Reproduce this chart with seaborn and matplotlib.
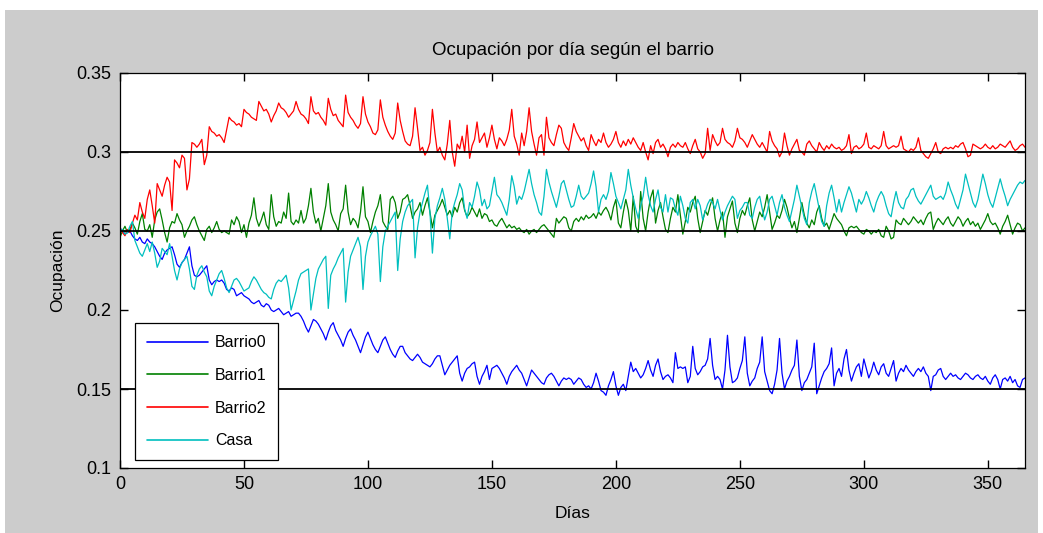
import numpy as np
import pandas as pd
import matplotlib
matplotlib.use('Agg')
import matplotlib.pyplot as plt
from matplotlib.patches import Rectangle
import seaborn as sns

# ---- datos: ocupación diaria (días 0..365) ----
dias = list(range(0, 366))

barrio0 = [
    0.252, 0.250, 0.248, 0.249, 0.250, 0.247, 0.245, 0.244, 0.246, 0.243,
    0.242, 0.245, 0.243, 0.242, 0.240, 0.237, 0.234, 0.232, 0.236, 0.238,
    0.239, 0.240, 0.235, 0.229, 0.227, 0.230, 0.232, 0.236, 0.240, 0.228,
    0.222, 0.221, 0.222, 0.224, 0.226, 0.228, 0.219, 0.216, 0.218, 0.219,
    0.218, 0.219, 0.217, 0.213, 0.212, 0.214, 0.213, 0.209, 0.210, 0.211,
    0.209, 0.208, 0.207, 0.205, 0.204, 0.205, 0.206, 0.203, 0.202, 0.204,
    0.203, 0.200, 0.199, 0.200, 0.201, 0.199, 0.197, 0.198, 0.199, 0.196,
    0.197, 0.198, 0.198, 0.196, 0.193, 0.189, 0.186, 0.190, 0.194, 0.193,
    0.191, 0.188, 0.185, 0.181, 0.186, 0.190, 0.192, 0.187, 0.184, 0.181,
    0.177, 0.182, 0.186, 0.188, 0.184, 0.181, 0.177, 0.173, 0.178, 0.183,
    0.186, 0.182, 0.178, 0.175, 0.173, 0.177, 0.181, 0.183, 0.179, 0.175,
    0.172, 0.170, 0.174, 0.177, 0.177, 0.173, 0.171, 0.169, 0.168, 0.170,
    0.172, 0.170, 0.167, 0.166, 0.165, 0.164, 0.166, 0.169, 0.171, 0.171,
    0.165, 0.159, 0.162, 0.165, 0.167, 0.169, 0.171, 0.160, 0.155, 0.160,
    0.163, 0.164, 0.166, 0.167, 0.158, 0.153, 0.158, 0.161, 0.165, 0.156,
    0.163, 0.164, 0.165, 0.163, 0.160, 0.157, 0.153, 0.158, 0.161, 0.163,
    0.165, 0.162, 0.160, 0.156, 0.152, 0.157, 0.162, 0.160, 0.158, 0.156,
    0.154, 0.153, 0.157, 0.159, 0.160, 0.158, 0.155, 0.152, 0.155, 0.157,
    0.156, 0.157, 0.156, 0.153, 0.155, 0.157, 0.156, 0.153, 0.151, 0.152,
    0.150, 0.154, 0.160, 0.155, 0.149, 0.148, 0.146, 0.152, 0.156, 0.161,
    0.152, 0.146, 0.151, 0.153, 0.149, 0.158, 0.167, 0.161, 0.163, 0.160,
    0.157, 0.159, 0.163, 0.168, 0.162, 0.158, 0.165, 0.169, 0.161, 0.156,
    0.158, 0.159, 0.157, 0.154, 0.173, 0.163, 0.164, 0.163, 0.164, 0.154,
    0.158, 0.177, 0.163, 0.159, 0.161, 0.164, 0.165, 0.169, 0.182, 0.165,
    0.156, 0.158, 0.156, 0.150, 0.162, 0.184, 0.164, 0.154, 0.155, 0.157,
    0.163, 0.168, 0.183, 0.160, 0.152, 0.155, 0.157, 0.163, 0.167, 0.183,
    0.161, 0.155, 0.149, 0.147, 0.153, 0.162, 0.182, 0.160, 0.150, 0.155,
    0.158, 0.162, 0.165, 0.181, 0.158, 0.149, 0.154, 0.156, 0.160, 0.164,
    0.179, 0.147, 0.152, 0.157, 0.161, 0.163, 0.166, 0.176, 0.152, 0.160,
    0.163, 0.158, 0.169, 0.175, 0.162, 0.155, 0.160, 0.164, 0.166, 0.158,
    0.169, 0.163, 0.157, 0.161, 0.167, 0.162, 0.159, 0.164, 0.166, 0.160,
    0.158, 0.163, 0.168, 0.155, 0.160, 0.163, 0.161, 0.165, 0.162, 0.160,
    0.158, 0.161, 0.163, 0.161, 0.164, 0.160, 0.158, 0.149, 0.158, 0.159,
    0.162, 0.163, 0.158, 0.156, 0.158, 0.160, 0.158, 0.159, 0.157, 0.156,
    0.158, 0.160, 0.159, 0.157, 0.156, 0.158, 0.159, 0.157, 0.156, 0.158,
    0.155, 0.153, 0.157, 0.159, 0.156, 0.150, 0.156, 0.157, 0.155, 0.158,
    0.154, 0.156, 0.152, 0.151, 0.156, 0.157,
]

barrio1 = [
    0.246, 0.250, 0.253, 0.249, 0.251, 0.255, 0.252, 0.248, 0.256, 0.261,
    0.251, 0.250, 0.254, 0.246, 0.257, 0.262, 0.264, 0.257, 0.249, 0.243,
    0.252, 0.256, 0.255, 0.261, 0.257, 0.254, 0.246, 0.250, 0.253, 0.257,
    0.259, 0.254, 0.250, 0.247, 0.244, 0.251, 0.253, 0.249, 0.252, 0.256,
    0.251, 0.249, 0.250, 0.249, 0.248, 0.257, 0.254, 0.259, 0.256, 0.249,
    0.254, 0.246, 0.255, 0.260, 0.271, 0.258, 0.253, 0.257, 0.262, 0.254,
    0.251, 0.273, 0.259, 0.253, 0.256, 0.255, 0.262, 0.258, 0.274, 0.256,
    0.254, 0.257, 0.255, 0.263, 0.255, 0.258, 0.266, 0.277, 0.262, 0.255,
    0.258, 0.250, 0.258, 0.266, 0.280, 0.262, 0.257, 0.254, 0.250, 0.261,
    0.264, 0.279, 0.262, 0.254, 0.258, 0.256, 0.252, 0.262, 0.278, 0.259,
    0.256, 0.249, 0.256, 0.262, 0.266, 0.273, 0.256, 0.253, 0.251, 0.270,
    0.272, 0.268, 0.258, 0.262, 0.270, 0.271, 0.273, 0.266, 0.258, 0.262,
    0.264, 0.268, 0.260, 0.266, 0.271, 0.262, 0.252, 0.260, 0.263, 0.266,
    0.270, 0.265, 0.260, 0.263, 0.259, 0.265, 0.262, 0.268, 0.271, 0.263,
    0.259, 0.261, 0.265, 0.262, 0.259, 0.264, 0.258, 0.261, 0.260, 0.256,
    0.257, 0.254, 0.253, 0.256, 0.258, 0.255, 0.252, 0.254, 0.252, 0.253,
    0.251, 0.252, 0.250, 0.249, 0.251, 0.248, 0.250, 0.251, 0.249, 0.251,
    0.253, 0.254, 0.252, 0.250, 0.248, 0.246, 0.258, 0.255, 0.257, 0.259,
    0.258, 0.252, 0.250, 0.256, 0.258, 0.256, 0.259, 0.257, 0.260, 0.258,
    0.259, 0.261, 0.258, 0.262, 0.260, 0.263, 0.265, 0.262, 0.257, 0.265,
    0.270, 0.255, 0.252, 0.262, 0.270, 0.263, 0.250, 0.272, 0.253, 0.249,
    0.275, 0.258, 0.250, 0.262, 0.271, 0.276, 0.255, 0.263, 0.268, 0.259,
    0.251, 0.249, 0.258, 0.265, 0.262, 0.273, 0.260, 0.248, 0.256, 0.265,
    0.262, 0.268, 0.272, 0.258, 0.249, 0.256, 0.263, 0.260, 0.266, 0.271,
    0.258, 0.250, 0.257, 0.262, 0.246, 0.259, 0.264, 0.269, 0.255, 0.249,
    0.258, 0.263, 0.260, 0.266, 0.271, 0.257, 0.250, 0.256, 0.262, 0.259,
    0.265, 0.273, 0.262, 0.251, 0.255, 0.260, 0.258, 0.263, 0.270, 0.265,
    0.258, 0.252, 0.256, 0.249, 0.258, 0.268, 0.260, 0.255, 0.252, 0.257,
    0.254, 0.262, 0.266, 0.258, 0.253, 0.255, 0.251, 0.256, 0.261, 0.258,
    0.256, 0.254, 0.250, 0.247, 0.252, 0.253, 0.252, 0.253, 0.251, 0.249,
    0.248, 0.251, 0.250, 0.248, 0.250, 0.249, 0.251, 0.247, 0.246, 0.253,
    0.250, 0.245, 0.246, 0.257, 0.255, 0.254, 0.258, 0.256, 0.254, 0.256,
    0.259, 0.257, 0.255, 0.257, 0.254, 0.258, 0.261, 0.262, 0.251, 0.255,
    0.258, 0.256, 0.254, 0.257, 0.259, 0.255, 0.253, 0.256, 0.259, 0.257,
    0.253, 0.256, 0.258, 0.254, 0.256, 0.253, 0.255, 0.251, 0.254, 0.257,
    0.261, 0.256, 0.254, 0.255, 0.252, 0.248, 0.253, 0.256, 0.260, 0.254,
    0.248, 0.252, 0.255, 0.254, 0.250, 0.252,
]

barrio2 = [
    0.252, 0.249, 0.247, 0.251, 0.249, 0.255, 0.260, 0.257, 0.268, 0.262,
    0.258, 0.270, 0.276, 0.266, 0.255, 0.280, 0.276, 0.272, 0.279, 0.284,
    0.281, 0.263, 0.295, 0.293, 0.290, 0.298, 0.296, 0.276, 0.283, 0.306,
    0.305, 0.303, 0.305, 0.308, 0.292, 0.298, 0.316, 0.313, 0.312, 0.310,
    0.311, 0.309, 0.306, 0.314, 0.322, 0.320, 0.319, 0.317, 0.318, 0.316,
    0.327, 0.325, 0.324, 0.322, 0.321, 0.320, 0.332, 0.329, 0.326, 0.327,
    0.324, 0.319, 0.323, 0.326, 0.331, 0.328, 0.327, 0.325, 0.322, 0.324,
    0.326, 0.332, 0.327, 0.324, 0.323, 0.321, 0.318, 0.335, 0.326, 0.324,
    0.325, 0.322, 0.320, 0.317, 0.334, 0.327, 0.323, 0.324, 0.320, 0.318,
    0.316, 0.336, 0.325, 0.322, 0.320, 0.317, 0.315, 0.318, 0.335, 0.324,
    0.319, 0.316, 0.312, 0.311, 0.314, 0.333, 0.322, 0.317, 0.313, 0.310,
    0.308, 0.312, 0.331, 0.320, 0.313, 0.307, 0.305, 0.304, 0.310, 0.328,
    0.315, 0.301, 0.303, 0.298, 0.301, 0.306, 0.327, 0.312, 0.300, 0.303,
    0.298, 0.295, 0.305, 0.320, 0.300, 0.291, 0.305, 0.302, 0.310, 0.300,
    0.317, 0.296, 0.304, 0.308, 0.319, 0.306, 0.309, 0.312, 0.303, 0.309,
    0.317, 0.308, 0.302, 0.309, 0.307, 0.304, 0.308, 0.314, 0.327, 0.310,
    0.305, 0.298, 0.312, 0.304, 0.313, 0.328, 0.313, 0.305, 0.298, 0.309,
    0.311, 0.298, 0.322, 0.309, 0.306, 0.304, 0.311, 0.317, 0.315, 0.306,
    0.303, 0.301, 0.309, 0.318, 0.313, 0.310, 0.307, 0.309, 0.304, 0.301,
    0.311, 0.307, 0.304, 0.308, 0.306, 0.312, 0.306, 0.303, 0.305, 0.308,
    0.313, 0.306, 0.303, 0.307, 0.304, 0.308, 0.305, 0.309, 0.306, 0.303,
    0.301, 0.306, 0.300, 0.295, 0.304, 0.299, 0.306, 0.308, 0.303, 0.305,
    0.302, 0.297, 0.303, 0.305, 0.303, 0.306, 0.304, 0.303, 0.306, 0.302,
    0.299, 0.304, 0.308, 0.302, 0.300, 0.296, 0.299, 0.315, 0.301, 0.311,
    0.307, 0.304, 0.306, 0.315, 0.308, 0.306, 0.305, 0.303, 0.307, 0.315,
    0.309, 0.308, 0.306, 0.303, 0.307, 0.311, 0.308, 0.305, 0.303, 0.306,
    0.303, 0.300, 0.313, 0.307, 0.304, 0.302, 0.297, 0.300, 0.312, 0.304,
    0.298, 0.302, 0.305, 0.308, 0.301, 0.300, 0.298, 0.305, 0.307, 0.304,
    0.302, 0.300, 0.306, 0.303, 0.301, 0.304, 0.302, 0.305, 0.303, 0.302,
    0.303, 0.301, 0.302, 0.304, 0.311, 0.299, 0.303, 0.304, 0.302, 0.303,
    0.305, 0.312, 0.303, 0.302, 0.304, 0.303, 0.302, 0.304, 0.313, 0.304,
    0.302, 0.303, 0.304, 0.303, 0.304, 0.310, 0.302, 0.301, 0.300, 0.302,
    0.301, 0.303, 0.309, 0.301, 0.299, 0.297, 0.296, 0.299, 0.302, 0.306,
    0.300, 0.299, 0.302, 0.303, 0.302, 0.303, 0.302, 0.304, 0.303, 0.305,
    0.306, 0.302, 0.297, 0.298, 0.305, 0.304, 0.303, 0.302, 0.303, 0.305,
    0.303, 0.302, 0.304, 0.302, 0.303, 0.305, 0.304, 0.303, 0.305, 0.307,
    0.303, 0.301, 0.302, 0.304, 0.305, 0.303,
]

casa = [
    0.250, 0.251, 0.248, 0.249, 0.253, 0.256, 0.244, 0.240, 0.236, 0.234,
    0.238, 0.242, 0.237, 0.243, 0.236, 0.227, 0.231, 0.239, 0.237, 0.235,
    0.242, 0.234, 0.225, 0.219, 0.226, 0.230, 0.232, 0.234, 0.226, 0.215,
    0.213, 0.222, 0.226, 0.228, 0.224, 0.221, 0.212, 0.209, 0.215, 0.219,
    0.223, 0.225, 0.220, 0.214, 0.211, 0.215, 0.219, 0.220, 0.218, 0.215,
    0.212, 0.213, 0.214, 0.218, 0.221, 0.219, 0.216, 0.213, 0.211, 0.210,
    0.208, 0.207, 0.213, 0.217, 0.219, 0.218, 0.220, 0.222, 0.214, 0.200,
    0.206, 0.212, 0.219, 0.223, 0.224, 0.225, 0.226, 0.200, 0.210, 0.220,
    0.226, 0.229, 0.232, 0.234, 0.201, 0.222, 0.226, 0.229, 0.233, 0.236,
    0.239, 0.205, 0.224, 0.234, 0.238, 0.242, 0.246, 0.240, 0.213, 0.234,
    0.243, 0.247, 0.250, 0.253, 0.248, 0.218, 0.240, 0.250, 0.253, 0.256,
    0.259, 0.262, 0.225, 0.245, 0.256, 0.262, 0.266, 0.268, 0.270, 0.233,
    0.252, 0.262, 0.268, 0.274, 0.279, 0.262, 0.236, 0.258, 0.266, 0.271,
    0.277, 0.270, 0.258, 0.245, 0.262, 0.268, 0.273, 0.280, 0.276, 0.264,
    0.258, 0.268, 0.265, 0.272, 0.281, 0.276, 0.266, 0.270, 0.264, 0.266,
    0.275, 0.284, 0.273, 0.271, 0.268, 0.264, 0.260, 0.270, 0.285, 0.278,
    0.267, 0.272, 0.270, 0.275, 0.282, 0.289, 0.280, 0.273, 0.268, 0.262,
    0.260, 0.272, 0.289, 0.281, 0.275, 0.270, 0.265, 0.272, 0.280, 0.282,
    0.276, 0.270, 0.265, 0.266, 0.272, 0.279, 0.272, 0.270, 0.272, 0.274,
    0.280, 0.288, 0.278, 0.262, 0.270, 0.273, 0.270, 0.275, 0.287, 0.280,
    0.272, 0.268, 0.264, 0.270, 0.276, 0.289, 0.279, 0.271, 0.264, 0.258,
    0.266, 0.272, 0.284, 0.273, 0.266, 0.262, 0.270, 0.276, 0.265, 0.262,
    0.273, 0.262, 0.271, 0.270, 0.264, 0.260, 0.272, 0.266, 0.258, 0.255,
    0.268, 0.270, 0.264, 0.270, 0.266, 0.257, 0.262, 0.267, 0.270, 0.268,
    0.264, 0.270, 0.263, 0.257, 0.262, 0.266, 0.269, 0.272, 0.270, 0.258,
    0.263, 0.265, 0.268, 0.268, 0.260, 0.258, 0.265, 0.270, 0.272, 0.264,
    0.257, 0.262, 0.270, 0.272, 0.266, 0.260, 0.268, 0.273, 0.265, 0.260,
    0.256, 0.263, 0.270, 0.279, 0.272, 0.265, 0.258, 0.254, 0.268, 0.275,
    0.280, 0.272, 0.264, 0.256, 0.253, 0.266, 0.274, 0.279, 0.271, 0.262,
    0.270, 0.262, 0.268, 0.273, 0.278, 0.274, 0.268, 0.262, 0.270, 0.267,
    0.270, 0.275, 0.271, 0.266, 0.262, 0.268, 0.272, 0.275, 0.272, 0.266,
    0.261, 0.259, 0.268, 0.275, 0.268, 0.265, 0.264, 0.270, 0.272, 0.276,
    0.277, 0.272, 0.269, 0.267, 0.270, 0.273, 0.276, 0.279, 0.272, 0.270,
    0.271, 0.272, 0.270, 0.274, 0.281, 0.276, 0.272, 0.267, 0.264, 0.270,
    0.276, 0.286, 0.280, 0.274, 0.268, 0.265, 0.270, 0.278, 0.286, 0.280,
    0.273, 0.268, 0.265, 0.271, 0.277, 0.283, 0.277, 0.272, 0.266, 0.270,
    0.273, 0.276, 0.279, 0.281, 0.280, 0.282,
]

series = ['Barrio0', 'Barrio1', 'Barrio2', 'Casa']
colores = ['#0000ff', '#008000', '#ff0000', '#00bfbf']
niveles = [0.15, 0.25, 0.30]   # líneas horizontales de referencia
yticks = [0.1, 0.15, 0.2, 0.25, 0.3, 0.35]
xticks = [0, 50, 100, 150, 200, 250, 300, 350]

# ---- dataframe en formato largo para seaborn ----
df = pd.DataFrame({'Días': dias, 'Barrio0': barrio0, 'Barrio1': barrio1,
                   'Barrio2': barrio2, 'Casa': casa})
df_long = df.melt(id_vars='Días', var_name='Serie', value_name='Ocupación')

sns.set_style('ticks')
plt.rcParams['font.family'] = ['Liberation Sans', 'DejaVu Sans']
plt.rcParams['text.color'] = 'black'
plt.rcParams['axes.labelcolor'] = 'black'

fig = plt.figure(figsize=(10.43, 5.33), dpi=100)
fig.patch.set_facecolor('white')
# fondo gris estilo ventana de MATLAB (detrás de los ejes)
fondo = Rectangle((5 / 1043, 0), 1033 / 1043, 523 / 533,
                  transform=fig.transFigure, facecolor='#cccccc',
                  edgecolor='none', zorder=-10)
fig.add_artist(fondo)

ax = fig.add_axes([120 / 1043, 65 / 533, 905 / 1043, 395 / 533])
ax.set_zorder(1)
ax.set_facecolor('white')

sns.lineplot(data=df_long, x='Días', y='Ocupación', hue='Serie',
             hue_order=series, palette=dict(zip(series, colores)),
             linewidth=0.9, ax=ax)

for nivel in niveles:
    ax.axhline(nivel, color='black', linewidth=1.3, zorder=5)

ax.set_xlim(0, 365)
ax.set_ylim(0.1, 0.35)
ax.set_xticks(xticks)
ax.set_yticks(yticks)
ax.set_yticklabels(['0.1', '0.15', '0.2', '0.25', '0.3', '0.35'])
ax.tick_params(axis='both', which='both', direction='in', length=6,
               width=1, top=True, right=True, labelsize=13, colors='black',
               pad=6)
for s in ax.spines.values():
    s.set_visible(True)
    s.set_color('black')
    s.set_linewidth(0.9)

ax.set_title('Ocupación por día según el barrio', fontsize=13.5, pad=13,
             color='black')
ax.set_xlabel('Días', fontsize=12.5, labelpad=9, color='black')
ax.set_ylabel('Ocupación', fontsize=12.5, labelpad=8, color='black')

leg = ax.legend(loc='lower left', bbox_to_anchor=(0.0166, 0.02),
                borderaxespad=0, frameon=True, fancybox=False,
                framealpha=1, edgecolor='black', fontsize=11.5,
                handlelength=3.8, handletextpad=0.45, labelspacing=1.1,
                borderpad=0.75, title=None)
leg.get_frame().set_linewidth(0.9)
for t in leg.get_texts():
    t.set_color('black')
for h in leg.get_lines():
    h.set_linewidth(1.2)

fig.savefig('out.png', dpi=100, facecolor=fig.get_facecolor())
